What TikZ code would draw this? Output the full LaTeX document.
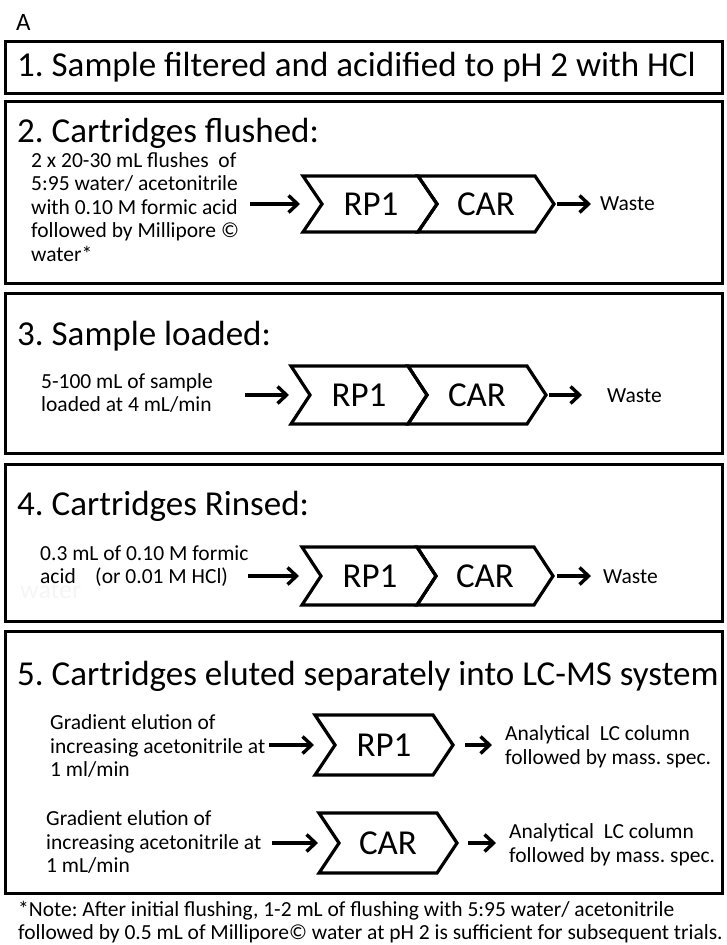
\documentclass[tikz,border=0pt]{standalone}
\usepackage{fontspec}
\setmainfont{Carlito}
\usetikzlibrary{arrows.meta}
\frenchspacing

\begin{document}
\begin{tikzpicture}[x=1pt,y=-1pt,
  stepbox/.style={draw,line width=3pt},
  steptitle/.style={anchor=west,inner sep=0,font=\fontsize{35}{35}\selectfont},
  small/.style={anchor=west,align=left,inner sep=0,font=\fontsize{21.5}{23.5}\selectfont},
  cart/.style={draw,line width=3.2pt,line join=miter},
  cartlabel/.style={inner sep=0,font=\fontsize{35}{35}\selectfont},
  flow/.style={-{Straight Barb[length=9pt,width=17pt]},line width=3.4pt}]

\useasboundingbox (0,0) rectangle (727,945);

\node [anchor=west,inner sep=0,font=\fontsize{25}{25}\selectfont] (lblA) at (16,22) {A};

% step 1
\draw [stepbox] (5,41) rectangle (722,93);
\node [steptitle] (s1) at (17,67) {1. Sample filtered and acidified to pH 2 with HCl};

% step 2
\draw [stepbox] (5,101) rectangle (722,283);
\node [steptitle] (s2) at (17,133) {2. Cartridges flushed:};
\node [small] (flushTxt) at (31,207) {2 x 20-30 mL flushes\ \ of\\5:95 water/ acetonitrile\\with 0.10 M formic acid\\followed by Millipore \copyright\\water*};
\draw [cart] (303,176) -- (418,176) -- (437,204) -- (418,232) -- (303,232) -- (322,204) -- cycle;
\draw [cart] (418,176) -- (535,176) -- (554,204) -- (535,232) -- (418,232) -- (437,204) -- cycle;
\node [cartlabel] (rp2) at (371,204) {RP1};
\node [cartlabel] (car2) at (486,204) {CAR};
\node [small] (waste2) at (600,204) {Waste};
\coordinate (in2a) at (250,204);
\coordinate (in2b) at (300,204);
\coordinate (out2a) at (557,204);
\coordinate (out2b) at (591,204);
\draw [flow] (in2a) -- (in2b);
\draw [flow] (out2a) -- (out2b);

% step 3
\draw [stepbox] (5,293) rectangle (722,453);
\node [steptitle] (s3) at (17,336) {3. Sample loaded:};
\node [small] (loadTxt) at (41,393) {5-100 mL of sample\\loaded at 4 mL/min};
\draw [cart] (291,366) -- (408,366) -- (427,395) -- (408,424) -- (291,424) -- (310,395) -- cycle;
\draw [cart] (408,366) -- (527,366) -- (546,395) -- (527,424) -- (408,424) -- (427,395) -- cycle;
\node [cartlabel] (rp3) at (359,395) {RP1};
\node [cartlabel] (car3) at (477,395) {CAR};
\node [small] (waste3) at (607,396) {Waste};
\coordinate (in3a) at (245,395);
\coordinate (in3b) at (289,395);
\coordinate (out3a) at (549,395);
\coordinate (out3b) at (582,395);
\draw [flow] (in3a) -- (in3b);
\draw [flow] (out3a) -- (out3b);

% step 4
\draw [stepbox] (5,464) rectangle (722,621);
\node [steptitle] (s4) at (17,506) {4. Cartridges Rinsed:};
\node [anchor=west,inner sep=0,text=black!4,font=\fontsize{26}{26}\selectfont] (ghost) at (20,590) {water};
\node [small] (rinseTxt) at (40,566) {0.3 mL of 0.10 M formic\\acid\ \ \ \ (or 0.01 M HCl)};
\draw [cart] (302,547) -- (417,547) -- (436,576) -- (417,605) -- (302,605) -- (321,576) -- cycle;
\draw [cart] (417,547) -- (534,547) -- (553,576) -- (534,605) -- (417,605) -- (436,576) -- cycle;
\node [cartlabel] (rp4) at (370,576) {RP1};
\node [cartlabel] (car4) at (485,576) {CAR};
\node [small] (waste4) at (603,577) {Waste};
\coordinate (in4a) at (248,576);
\coordinate (in4b) at (299,576);
\coordinate (out4a) at (557,576);
\coordinate (out4b) at (591,576);
\draw [flow] (in4a) -- (in4b);
\draw [flow] (out4a) -- (out4b);

% step 5
\draw [stepbox] (5,631) rectangle (722,893);
\node [steptitle] (s5) at (17,676) {5. Cartridges eluted separately into LC-MS system};
\node [small] (gradA) at (50,746) {Gradient elution of\\increasing acetonitrile at\\1 ml/min};
\draw [cart] (315,715) -- (433,715) -- (453,745) -- (433,775) -- (315,775) -- (335,745) -- cycle;
\node [cartlabel] (rp5) at (384,745) {RP1};
\node [small] (lcA) at (505,747) {Analytical\ \ LC column\\followed by mass. spec.};
\coordinate (gradAend) at (269,745);
\coordinate (rp5in) at (314,745);
\coordinate (rp5out) at (465,745);
\coordinate (lcAin) at (492,745);
\draw [flow] (gradAend) -- (rp5in);
\draw [flow] (rp5out) -- (lcAin);

\node [small] (gradB) at (46,842) {Gradient elution of\\increasing acetonitrile at\\1 mL/min};
\draw [cart] (319,813) -- (437,813) -- (457,843) -- (437,873) -- (319,873) -- (339,843) -- cycle;
\node [cartlabel] (car5) at (388,843) {CAR};
\node [small] (lcB) at (509,845) {Analytical\ \ LC column\\followed by mass. spec.};
\coordinate (gradBend) at (272,843);
\coordinate (car5in) at (318,843);
\coordinate (car5out) at (468,843);
\coordinate (lcBin) at (496,843);
\draw [flow] (gradBend) -- (car5in);
\draw [flow] (car5out) -- (lcBin);

\node [small] (note) at (18,922) {*Note: After initial flushing, 1-2 mL of flushing with 5:95 water/ acetonitrile\\followed by 0.5 mL of Millipore\copyright\ water at pH 2 is sufficient for subsequent trials.};

\end{tikzpicture}
\end{document}
